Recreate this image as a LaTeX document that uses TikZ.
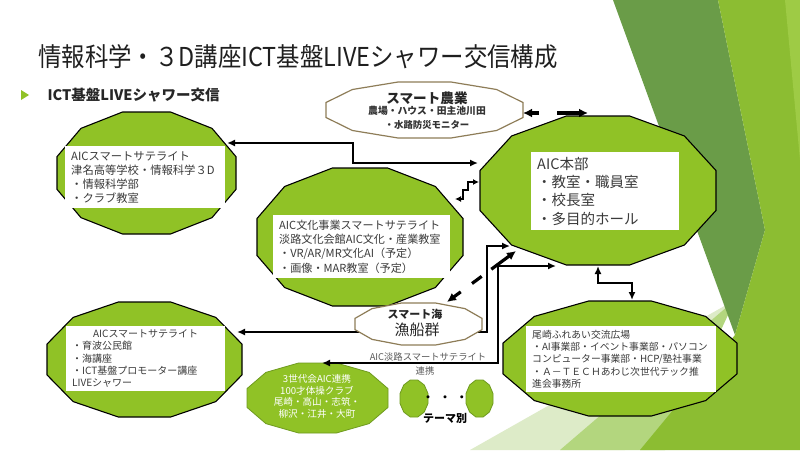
\documentclass[tikz,border=0pt]{standalone}
\usepackage{fontspec}
\usepackage{graphicx}
\setmainfont{Noto Sans CJK JP}
\usetikzlibrary{arrows.meta}
\definecolor{fgreen}{HTML}{90C226}
\definecolor{fgreenD}{HTML}{6E9A1E}
\definecolor{khaki}{HTML}{8E7D58}
\definecolor{txt}{HTML}{3A3A3A}
\definecolor{bgdark}{HTML}{6A9C48}
\definecolor{bgbright}{HTML}{8CBD32}
\definecolor{bgpale}{HTML}{DDEBC8}
\definecolor{bglight}{HTML}{B3D67E}
\definecolor{bgstrip}{HTML}{9ECB45}
\newcommand\dodec[6]{%
  \begin{scope}[shift={(#3,#4)},xscale=#5,yscale=#6]
  \path[#1] (0,.366)--(.134,.134)--(.366,0)--(.634,0)--(.866,.134)--(1,.366)--(1,.634)--(.866,.866)--(.634,1)--(.366,1)--(.134,.866)--(0,.634)--cycle;
  \coordinate (#2) at (.5,.5);
  \end{scope}}
\tikzset{
  gpoly/.style={fill=fgreen,draw=black,line width=1.1pt},
  kpoly/.style={fill=white,draw=khaki,line width=1.2pt},
  lpoly/.style={fill=fgreen,draw=fgreenD,line width=0.8pt},
  wbox/.style={fill=white,anchor=north west,align=left,inner xsep=6pt,inner ysep=0pt,text=txt},
  conn/.style={line width=1.8pt,{Latex[length=8pt,width=7pt]}-{Latex[length=8pt,width=7pt]}},
  sconn/.style={line width=1.8pt,{Latex[length=6pt,width=6pt]}-{Latex[length=6pt,width=6pt]}},
  dconn/.style={line width=3.2pt,{Latex[length=9pt,width=9pt]}-{Latex[length=9pt,width=9pt]}},
}
\begin{document}
\begin{tikzpicture}[x=1pt,y=-1pt]
\useasboundingbox (0,0) rectangle (800,450);
\fill[white] (0,0) rectangle (800,450);
% background facets
\fill[bgpale] (470,450) -- (735,300) -- (625,450) -- cycle;
\fill[bglight] (560,450) -- (735,300) -- (665,450) -- cycle;
\fill[bgdark] (613,0) -- (718,0) -- (765,230) -- (735,335) -- cycle;
\fill[bgbright] (718,0) -- (800,0) -- (800,450) -- (640,450) -- (735,335) -- (765,230) -- cycle;
\fill[bgstrip] (785,0) -- (800,0) -- (800,160) -- cycle;
% title
\node[text=black!88,font=\fontsize{26}{26}\selectfont] (title) at (298,57) {\scalebox{0.9}[1]{情報科学・３D講座ICT基盤LIVEシャワー交信構成}};
\fill[fgreen] (21,90) -- (29,95) -- (21,100) -- cycle;
\node[anchor=west,text=black!85,font=\fontsize{14.5}{15}\selectfont\bfseries] (sub) at (44,95) {ICT基盤LIVEシャワー交信};
% nodes
\dodec{gpoly}{sat1}{57}{112}{179}{122}
\node[wbox,text width=148pt,minimum height=62pt,font=\fontsize{11.3}{14}\selectfont] (t1) at (65,146) {AICスマートサテライト\\津名高等学校・情報科学３D\\・情報科学部\\・クラブ教室};
\dodec{gpoly}{sat2}{257}{168}{206}{138}
\node[wbox,text width=165pt,minimum height=63pt,font=\fontsize{11.1}{14.3}\selectfont] (t2) at (273,215) {AIC文化事業スマートサテライト\\淡路文化会館AIC文化・産業教室\\・VR/AR/MR文化AI（予定）\\・画像・MAR教室（予定）};
\dodec{gpoly}{hq}{480}{116}{236}{149}
\node[wbox,text width=136pt,minimum height=78pt,font=\fontsize{14.5}{18.3}\selectfont] (thq) at (531,152) {AIC本部\\・教室・職員室\\・校長室\\・多目的ホール};
\dodec{gpoly}{sat3}{47}{302}{195}{115}
\node[wbox,text width=147pt,minimum height=65pt,font=\fontsize{10}{12.2}\selectfont] (t3) at (66,326) {\makebox[147pt][c]{AICスマートサテライト}\\・育波公民館\\・海講座\\・ICT基盤プロモーター講座\\LIVEシャワー};
\dodec{gpoly}{oz}{503}{301}{234}{115}
\node[wbox,text width=178pt,minimum height=66pt,font=\fontsize{9.8}{12.2}\selectfont] (toz) at (526,326) {尾崎ふれあい交流広場\\・AI事業部・イベント事業部・パソコン\\コンピューター事業部・HCP/塾社事業\\・Ａ－ＴＥＣＨあわじ次世代テック推\\進会事務所};
\dodec{lpoly}{gen}{247}{363}{141}{70}
\node[text=white,align=center,font=\fontsize{9.6}{11.6}\selectfont] (tgen) at (317,396.5) {3世代会AIC連携\\100才体操クラブ\\尾崎・高山・志筑・\\柳沢・江井・大町};
\dodec{lpoly}{th1}{400}{380}{28}{37}
\dodec{lpoly}{th2}{466}{380}{27}{37}
\node[font=\fontsize{11}{11}\selectfont\bfseries] (dots) at (445,399) {・\hspace{6pt}・\hspace{6pt}・};
\node[font=\fontsize{11}{11}\selectfont\bfseries] (theme) at (445,418) {テーマ別};
\dodec{kpoly}{agri}{326}{82}{197}{56}
\node[font=\fontsize{13.6}{14}\selectfont\bfseries,text=black!85] (ag1) at (427,98) {スマート農業};
\node[font=\fontsize{9.8}{10}\selectfont\bfseries,text=black!80] (ag2) at (427,111) {農場・ハウス・田主池川田};
\node[font=\fontsize{9.4}{10}\selectfont\bfseries,text=black!80] (ag3) at (427,125) {・水路防災モニター};
% label
\node[text=black!65,font=\fontsize{9.3}{10}\selectfont] (lab1) at (428,357) {AIC淡路スマートサテライト};
\node[text=black!65,font=\fontsize{9.3}{10}\selectfont] (lab2) at (425,371) {連携};
% connector behind sea node
\coordinate (p-n3) at (237,332);
\coordinate (p-hqsw2) at (510,246);
\draw[conn] (p-n3) -- (487,332) -- (487,246) -- (p-hqsw2);
% sea node
\dodec{kpoly}{sea}{355}{303}{127}{42}
\node[font=\fontsize{11}{11}\selectfont\bfseries,text=black!85] (se1) at (415,314) {スマート海};
\node[font=\fontsize{15}{15}\selectfont,text=black!85] (se2) at (417,330) {漁船群};
% other connectors
\coordinate (p-n1) at (227,143);
\coordinate (p-hqw) at (478,163);
\draw[conn] (p-n1) -- (353,143) -- (353,163) -- (p-hqw);
\coordinate (p-n2) at (455,199);
\coordinate (p-hqw2) at (479,182);
\draw[sconn] (p-n2) -- (463,199) -- (463,190) -- (468,190) -- (468,182) -- (p-hqw2);
\coordinate (p-agri) at (523,113);
\coordinate (p-hqn) at (588,113);
\draw[dconn,dash pattern=on 8pt off 18pt on 40pt] (p-agri) -- (p-hqn);
\coordinate (p-sea) at (447,302);
\coordinate (p-hqsw) at (516,251);
\draw[dconn,dash pattern=on 9pt off 14pt on 12pt off 12pt on 30pt] (p-sea) -- (p-hqsw);
\coordinate (p-gen) at (322,363);
\coordinate (p-hqs) at (556,266);
\draw[conn] (p-gen) -- (498,363) -- (498,266) -- (p-hqs);
\coordinate (p-hqs2) at (598,266);
\coordinate (p-oz) at (632,300);
\draw[conn] (p-hqs2) -- (598,283) -- (632,283) -- (p-oz);
\end{tikzpicture}
\end{document}
